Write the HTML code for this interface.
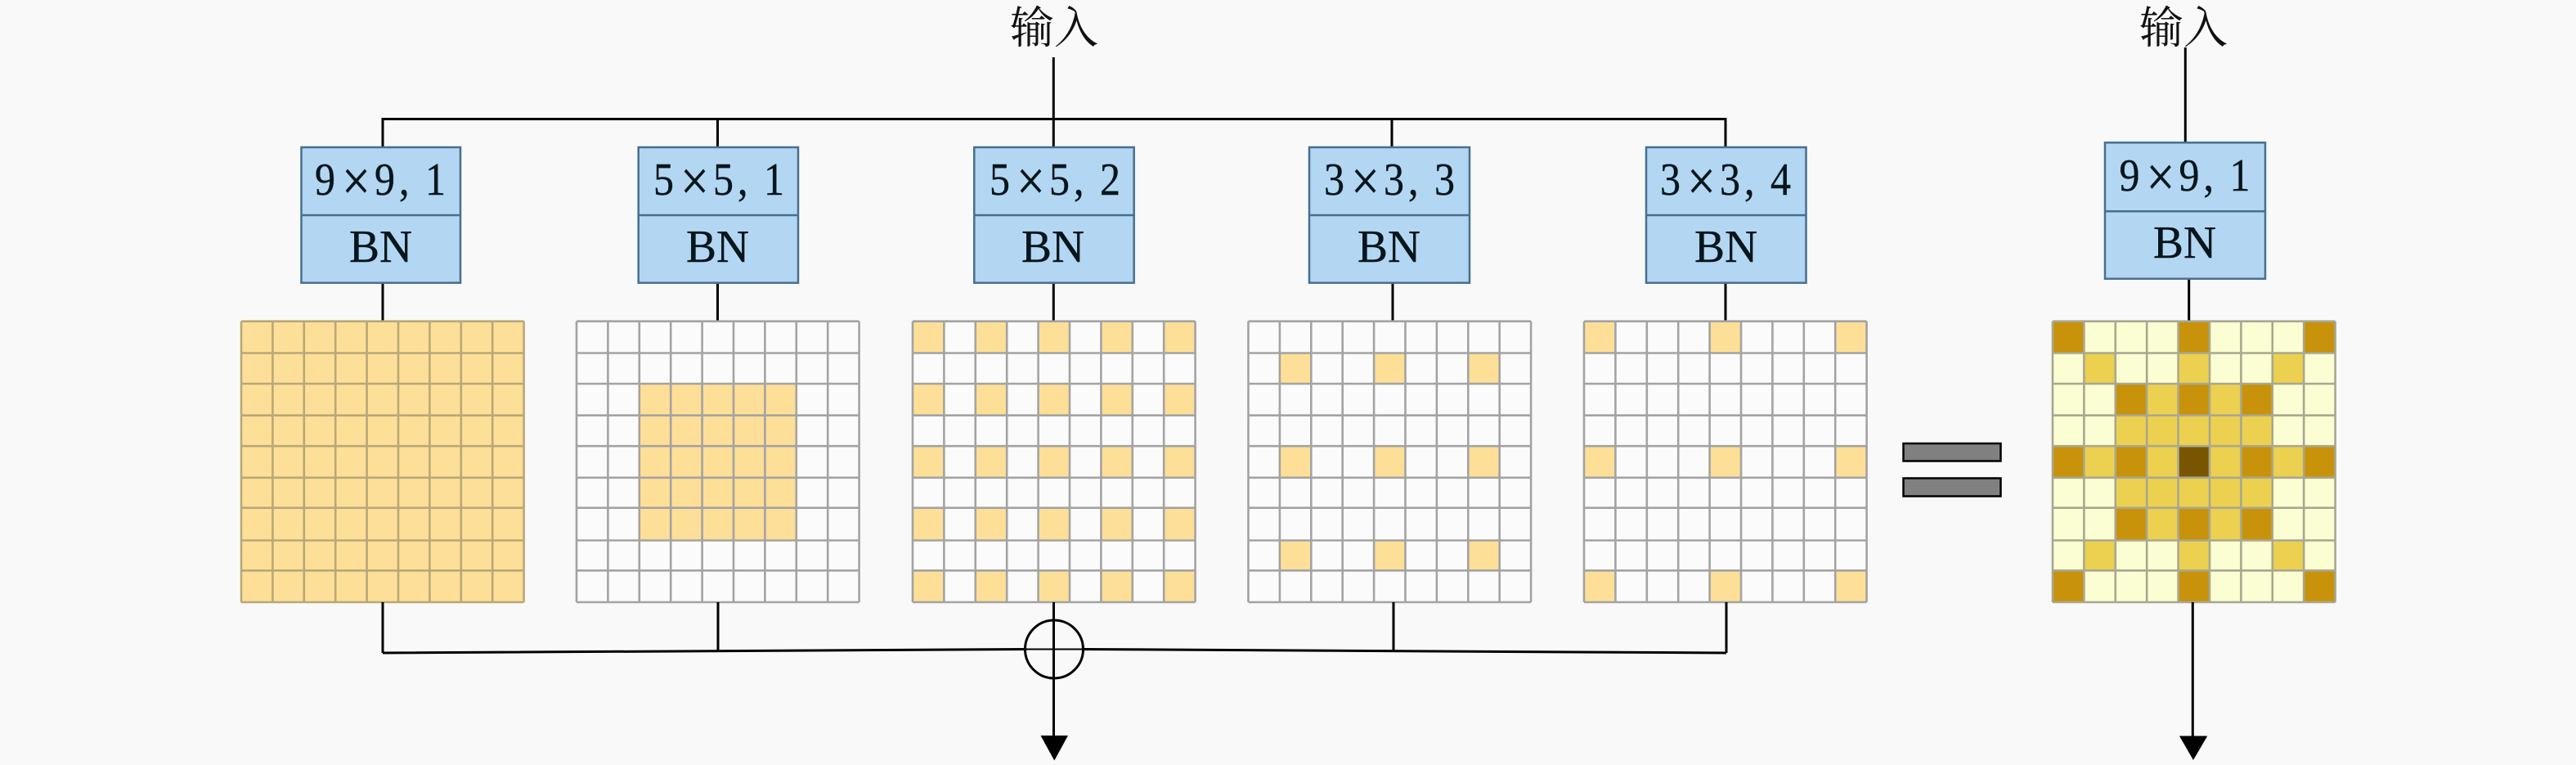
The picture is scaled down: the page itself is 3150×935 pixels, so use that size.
<!DOCTYPE html>
<html><head><meta charset="utf-8"><style>
html,body{margin:0;padding:0;background:#f9f9f9}
svg{display:block}
text{font-family:"Liberation Serif","Noto Serif CJK SC",serif;fill:#04161c}
.lb text{stroke:#04161c;stroke-width:.35}
.cjk{font-family:"Liberation Serif","Noto Serif CJK SC",serif;font-size:54px;fill:#111}
.box{fill:#b3d6f2;stroke:#45708f;stroke-width:2.5}
.ln{fill:none;stroke:#000;stroke-width:3}
.gl{fill:none;stroke:#a3a3a3;stroke-width:2.6}
.gold{fill:none;stroke:#fddf98}
</style></head><body>
<svg width="3150" height="935" viewBox="0 0 3150 935" xmlns="http://www.w3.org/2000/svg">
<defs>
<path id="grid" d="M0 392.7V736M38.4 392.7V736M76.8 392.7V736M115.2 392.7V736M153.6 392.7V736M192 392.7V736M230.4 392.7V736M268.8 392.7V736M307.2 392.7V736M345.6 392.7V736M0 392.7H345.6M0 431.5H345.6M0 469H345.6M0 507.7H345.6M0 545.2H345.6M0 583.8H345.6M0 620.7H345.6M0 660.5H345.6M0 697.3H345.6M0 736H345.6"/>
</defs>
<rect width="3150" height="935" fill="#f9f9f9"/>

<!-- connectors top -->
<path class="ln" d="M468 180V145.5H2110V180M877.5 145.5V180M1288.3 70V180M1702 145.5V180"/>
<path class="ln" d="M468 345V392.7M877.5 345V392.7M1288.3 345V392.7M1703 345V392.7M2110 345V392.7"/>
<path class="ln" d="M2672.3 58V175M2676.7 340V392"/>

<text class="cjk" x="1235" y="52.5">输入</text>
<text class="cjk" x="2616" y="52.5">输入</text>

<!-- boxes -->
<g>
<rect class="box" x="368.5" y="180" width="194.5" height="165.7"/><path class="box" d="M368.5 263H563"/>
<rect class="box" x="780.7" y="180" width="195.3" height="165.7"/><path class="box" d="M780.7 263H976"/>
<rect class="box" x="1191.3" y="180" width="195.4" height="165.7"/><path class="box" d="M1191.3 263H1386.7"/>
<rect class="box" x="1601" y="180" width="196" height="165.7"/><path class="box" d="M1601 263H1797"/>
<rect class="box" x="2013" y="180" width="195.5" height="165.7"/><path class="box" d="M2013 263H2208.5"/>
<rect class="box" x="2574" y="174.3" width="196" height="166.4"/><path class="box" d="M2574 258.3H2770"/>
</g>

<!-- labels -->
<g font-size="50" class="lb">
<g transform="translate(385,238) scale(1,1.12)"><text x="0">9</text><text x="33" y="6" font-size="62">×</text><text x="73 103 120 135">9, 1</text></g>
<g transform="translate(799,238) scale(1,1.12)"><text x="0">5</text><text x="33" y="6" font-size="62">×</text><text x="73 103 120 135">5, 1</text></g>
<g transform="translate(1210,238) scale(1,1.12)"><text x="0">5</text><text x="33" y="6" font-size="62">×</text><text x="73 103 120 135">5, 2</text></g>
<g transform="translate(1619,238) scale(1,1.12)"><text x="0">3</text><text x="33" y="6" font-size="62">×</text><text x="73 103 120 135">3, 3</text></g>
<g transform="translate(2030,238) scale(1,1.12)"><text x="0">3</text><text x="33" y="6" font-size="62">×</text><text x="73 103 120 135">3, 4</text></g>
<g transform="translate(2591.5,233) scale(1,1.12)"><text x="0">9</text><text x="33" y="6" font-size="62">×</text><text x="73 103 120 135">9, 1</text></g>
<g transform="translate(427,320) scale(1,1.12)"><text textLength="77" lengthAdjust="spacingAndGlyphs">BN</text></g>
<g transform="translate(839,320) scale(1,1.12)"><text textLength="77" lengthAdjust="spacingAndGlyphs">BN</text></g>
<g transform="translate(1249,320) scale(1,1.12)"><text textLength="77" lengthAdjust="spacingAndGlyphs">BN</text></g>
<g transform="translate(1660,320) scale(1,1.12)"><text textLength="77" lengthAdjust="spacingAndGlyphs">BN</text></g>
<g transform="translate(2072,320) scale(1,1.12)"><text textLength="77" lengthAdjust="spacingAndGlyphs">BN</text></g>
<g transform="translate(2633,315) scale(1,1.12)"><text textLength="77" lengthAdjust="spacingAndGlyphs">BN</text></g>
</g>

<!-- grid 1 -->
<g transform="translate(295,0)">
<rect x="0" y="392.7" width="345.6" height="343.3" fill="#fddf98"/>
<use href="#grid" class="gl" style="stroke:#b8a878"/>
</g>
<!-- grid 2 -->
<g transform="translate(705,0)">
<rect x="0" y="392.7" width="345.6" height="343.3" fill="#fbfbfb"/>
<rect x="76.8" y="469" width="192" height="191.5" fill="#fddf98"/>
<use href="#grid" class="gl"/>
</g>
<!-- grid 3 -->
<g transform="translate(1116,0)">
<rect x="0" y="392.7" width="345.6" height="343.3" fill="#fbfbfb"/>
<g class="gold" stroke-dasharray="38.4">
<path d="M0 412.1H345.6" stroke-width="38.8"/>
<path d="M0 488.35H345.6" stroke-width="38.7"/>
<path d="M0 564.5H345.6" stroke-width="38.6"/>
<path d="M0 640.6H345.6" stroke-width="39.8"/>
<path d="M0 716.65H345.6" stroke-width="38.7"/>
</g>
<use href="#grid" class="gl"/>
</g>
<!-- grid 4 -->
<g transform="translate(1526.5,0)">
<rect x="0" y="392.7" width="345.6" height="343.3" fill="#fbfbfb"/>
<g class="gold" stroke-dasharray="38.4 76.8">
<path d="M38.4 450.25H345.6" stroke-width="37.5"/>
<path d="M38.4 564.5H345.6" stroke-width="38.6"/>
<path d="M38.4 678.9H345.6" stroke-width="36.8"/>
</g>
<use href="#grid" class="gl"/>
</g>
<!-- grid 5 -->
<g transform="translate(1937,0)">
<rect x="0" y="392.7" width="345.6" height="343.3" fill="#fbfbfb"/>
<g class="gold" stroke-dasharray="38.4 115.2">
<path d="M0 412.1H345.6" stroke-width="38.8"/>
<path d="M0 564.5H345.6" stroke-width="38.6"/>
<path d="M0 716.65H345.6" stroke-width="38.7"/>
</g>
<use href="#grid" class="gl"/>
</g>
<!-- grid 6 -->
<g transform="translate(2510,0)">
<rect x="0" y="392.7" width="345.6" height="343.3" fill="#fbfdd3"/>
<g fill="none" stroke="#ecd050">
<path d="M38.4 450.25H345.6" stroke-width="37.5" stroke-dasharray="38.4 76.8"/>
<path d="M38.4 678.9H345.6" stroke-width="36.8" stroke-dasharray="38.4 76.8"/>
<path d="M76.8 526.45H268.8" stroke-width="37.5"/>
<path d="M76.8 602.25H268.8" stroke-width="36.9"/>
<path d="M115.2 488.35H230.4" stroke-width="38.7" stroke-dasharray="38.4"/>
<path d="M115.2 640.6H230.4" stroke-width="39.8" stroke-dasharray="38.4"/>
<path d="M38.4 564.5H307.2" stroke-width="38.6" stroke-dasharray="38.4"/>
</g>
<g fill="none" stroke="#c8920a">
<path d="M0 412.1H345.6" stroke-width="38.8" stroke-dasharray="38.4 115.2"/>
<path d="M0 716.65H345.6" stroke-width="38.7" stroke-dasharray="38.4 115.2"/>
<path d="M76.8 488.35H268.8" stroke-width="38.7" stroke-dasharray="38.4"/>
<path d="M76.8 640.6H268.8" stroke-width="39.8" stroke-dasharray="38.4"/>
<path d="M0 564.5H345.6" stroke-width="38.6" stroke-dasharray="38.4"/>
</g>
<rect x="153.6" y="545.2" width="38.4" height="38.6" fill="#7a5500"/>
<use href="#grid" class="gl" style="stroke:#a8a890"/>
</g>

<!-- bottom connectors -->
<path class="ln" d="M468 736V798M878 736V796M1704 736V796M2111 736V798"/>
<path class="ln" d="M468 798L1253 793.5M1325 793.5L2111 798"/>
<path fill="none" stroke="#000" stroke-width="2" d="M1253 793.5H1325"/>
<circle class="ln" cx="1289" cy="793.5" r="35.5" stroke-width="3.5"/>
<path class="ln" d="M1288.5 736V900"/>
<path d="M1272.5 899H1306L1289.3 929.5Z" fill="#000"/>
<path class="ln" d="M2681.3 736V900"/>
<path d="M2665 899.5H2699.3L2682 929Z" fill="#000"/>

<!-- equals -->
<rect x="2327.5" y="542" width="119" height="21.5" fill="#808080" stroke="#000" stroke-width="2.5"/>
<rect x="2327.5" y="584.5" width="119" height="22" fill="#808080" stroke="#000" stroke-width="2.5"/>
</svg>
</body></html>
